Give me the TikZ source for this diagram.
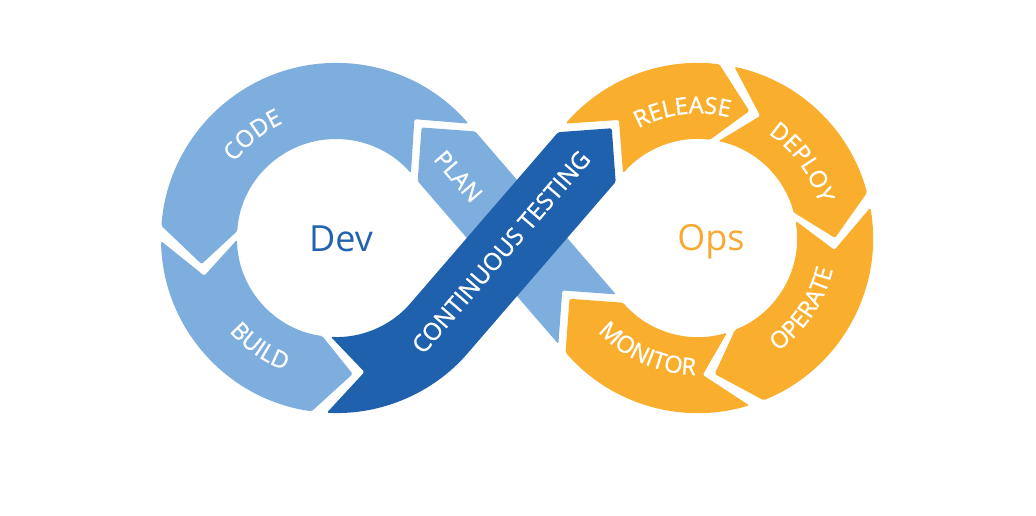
\documentclass[tikz,border=0pt]{standalone}
\usepackage{fontspec}
\setmainfont{Open Sans}
\newfontfamily\lblfam[FakeBold=1]{Open Sans}
\usetikzlibrary{calc,decorations.text}
\definecolor{lb}{HTML}{7EAEDD}
\definecolor{db}{HTML}{1F61AC}
\definecolor{og}{HTML}{FAAE2E}
\definecolor{devc}{HTML}{2163AE}
\definecolor{opsc}{HTML}{F7A934}
% point on the light band: t along band (Dev->Ops), s across (towards upper right)
\newcommand\lbpt[3]{\coordinate (#1) at ({517+0.6535*(#2)+0.7569*(#3)},{278-0.7569*(#2)+0.6535*(#3)});}
% point on the dark band: t along band (Dev->Ops), s across (towards upper left)
\newcommand\dbpt[3]{\coordinate (#1) at ({517+0.6535*(#2)-0.7569*(#3)},{278+0.7569*(#2)+0.6535*(#3)});}
\newcommand\lblf{\lblfam\fontsize{23.5pt}{23.5pt}\selectfont}
\newcommand\ctf{\lblfam\fontsize{24pt}{24pt}\selectfont}
\tikzset{
  seg/.style={draw=none, rounded corners=1.5pt},
  lbl/.style={text=white, inner sep=0pt},
  arclabel/.style={decorate, decoration={text along path, text={|\lblf|#1}, text align=center, text color=white}},
  big/.style={font=\fontsize{36pt}{36pt}\selectfont, anchor=base, inner sep=0pt}
}
\begin{document}
\begin{tikzpicture}[x=1pt,y=1pt]
\useasboundingbox (0,0) rectangle (1036,516);
\coordinate (D) at (336,278);
\coordinate (O) at (698,278);
\lbpt{cn}{-157}{0}
\lbpt{pt}{-146}{0}
\lbpt{pa}{-108}{38}
\lbpt{pd}{-108}{-38}
\lbpt{pb}{107.3}{38}
\lbpt{pc}{107.3}{-38}
\lbpt{pn}{69.3}{0}
\lbpt{mt}{80.3}{0}
\lbpt{planc}{-85}{-4}
\dbpt{ca}{107}{-38}
\dbpt{ct}{145}{0}
\dbpt{cb}{107}{38}
\dbpt{rn}{156}{0}
\dbpt{ctc}{-21}{3}
% BUILD
\fill[seg, lb] ($(D)+(181:175pt)$) arc[start angle=181, end angle=262, radius=175pt] -- ($(D)+(277:137pt)$) -- ($(D)+(262:99pt)$) arc[start angle=262, end angle=181, radius=99pt] -- ($(D)+(196:137pt)$) -- cycle;
% CODE
\fill[seg, lb] (cn) -- ($(D)+(40.81:175pt)$) arc[start angle=40.81, end angle=176, radius=175pt] -- ($(D)+(191:137pt)$) -- ($(D)+(176:99pt)$) arc[start angle=176, end angle=40.81, radius=99pt] -- cycle;
% RELEASE
\fill[seg, og] (rn) -- ($(O)+(139.19:175pt)$) arc[start angle=139.19, end angle=83, radius=175pt] -- ($(O)+(68:137pt)$) -- ($(O)+(83:99pt)$) arc[start angle=83, end angle=139.19, radius=99pt] -- cycle;
% DEPLOY
\fill[seg, og] ($(O)+(78:175pt)$) arc[start angle=78, end angle=15, radius=175pt] -- ($(O)+(0:137pt)$) -- ($(O)+(15:99pt)$) arc[start angle=15, end angle=78, radius=99pt] -- ($(O)+(63:137pt)$) -- cycle;
% OPERATE
\fill[seg, og] ($(O)+(10:175pt)$) arc[start angle=10, end angle=-68, radius=175pt] -- ($(O)+(-83:137pt)$) -- ($(O)+(-68:99pt)$) arc[start angle=-68, end angle=10, radius=99pt] -- ($(O)+(-5:137pt)$) -- cycle;
% MONITOR
\fill[seg, og] ($(O)+(-73:175pt)$) arc[start angle=-73, end angle=-139.19, radius=175pt] -- (mt) -- ($(O)+(-139.19:99pt)$) arc[start angle=-139.19, end angle=-73, radius=99pt] -- ($(O)+(-88:137pt)$) -- cycle;
% PLAN band
\fill[seg, lb] (pt) -- (pa) -- (pb) -- (pn) -- (pc) -- (pd) -- cycle;
% CONTINUOUS TESTING band
\fill[seg, db] ($(D)+(267:175pt)$) arc[start angle=267, end angle=319.19, radius=175pt] -- (ca) -- (ct) -- (cb) -- ($(D)+(319.19:99pt)$) arc[start angle=319.19, end angle=267, radius=99pt] -- ($(D)+(282:137pt)$) -- cycle;
% labels
\node[lbl, font=\lblf, rotate=-49.19] (plan) at (planc) {PLAN};
\node[lbl, font=\ctf, rotate=49.19] (ctest) at (ctc) {CONTINUOUS TESTING};
\path[arclabel=CODE] ($(D)+(169:126.6pt)$) arc[start angle=169, end angle=89, radius=126.6pt];
\path[arclabel=BUILD] ($(D)+(195:142pt)$) arc[start angle=195, end angle=275, radius=142pt];
\path[arclabel=RELEASE] ($(O)+(137:124.6pt)$) arc[start angle=137, end angle=57, radius=124.6pt];
\path[arclabel=DEPLOY] ($(O)+(76:125.6pt)$) arc[start angle=76, end angle=-4, radius=125.6pt];
\path[arclabel=OPERATE] ($(O)+(-74:138.4pt)$) arc[start angle=-74, end angle=6, radius=138.4pt];
\path[arclabel=MONITOR] ($(O)+(206:137pt)$) arc[start angle=206, end angle=286, radius=137pt];
\node[big, text=devc] (dev) at (341,264) {Dev};
\node[big, text=opsc] (ops) at (711,265) {Ops};
\end{tikzpicture}
\end{document}
